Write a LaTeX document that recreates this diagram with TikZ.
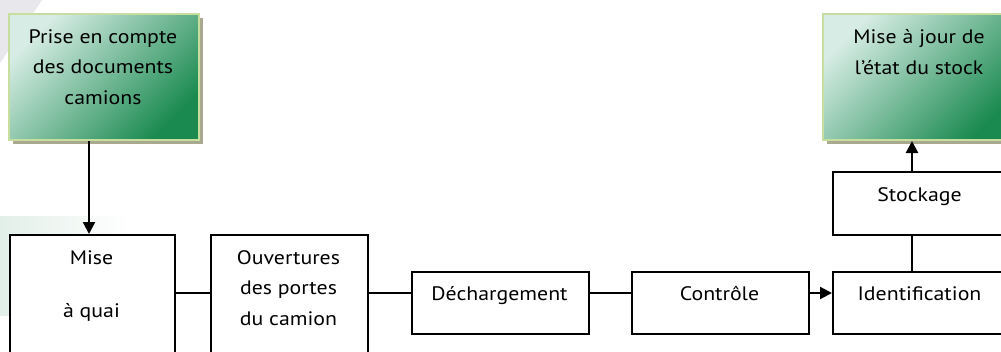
\documentclass[tikz,border=0pt]{standalone}
\usepackage{fontspec}
\setmainfont{PT Sans}[FakeStretch=1.12]
\usetikzlibrary{arrows.meta,shadows}
\definecolor{glight}{HTML}{D6ECE4}
\definecolor{gdark}{HTML}{1A8A50}
\definecolor{gborder}{HTML}{C8DE9E}
\definecolor{gshadow}{HTML}{A8A98E}
\definecolor{bggray}{HTML}{E8E8EC}
\definecolor{bggreen}{HTML}{E2EFE8}
\tikzset{
  gbox/.style={draw=gborder, line width=2pt, top color=glight, bottom color=gdark, shading angle=45,
    inner sep=0pt, minimum height=126pt, anchor=north west,
    general shadow={fill=gshadow, shadow xshift=4pt, shadow yshift=-4pt}},
  wbox/.style={draw=black, line width=1.8pt, fill=white, inner sep=0pt, anchor=north west},
  lbl/.style={font=\fontsize{19.5}{30.5}\selectfont, align=center, anchor=base, inner sep=0pt},
  link/.style={line width=1.7pt},
  arr/.style={line width=2.2pt, -{Triangle[length=12pt,width=12pt]}},
}
\begin{document}
\begin{tikzpicture}[x=1pt,y=-1pt]
\useasboundingbox (0,0) rectangle (1001,351);
\fill[white] (0,0) rectangle (1001,351);
\clip (0,0) rectangle (1001,351);
% background decorations
\fill[bggray] (0,0) -- (42,0) -- (0,63) -- cycle;
\shade[left color=bggreen, right color=white] (0,216) rectangle (130,315);
% green boxes
\node[gbox, minimum width=190pt] (g1) at (8,13) {};
\node[gbox, minimum width=194pt] (g2) at (822,13) {};
% white boxes
\node[wbox, minimum width=165pt, minimum height=118pt] (maq) at (9,234) {};
\node[wbox, minimum width=157pt, minimum height=118pt] (ouv) at (210,234) {};
\node[wbox, minimum width=177pt, minimum height=62pt] (dech) at (411,271) {};
\node[wbox, minimum width=177pt, minimum height=62pt] (ctrl) at (631,271) {};
\node[wbox, minimum width=178pt, minimum height=62pt] (ident) at (832,271) {};
\node[wbox, minimum width=178pt, minimum height=63pt] (stock) at (832,171) {};
% texts (anchor = baseline of last line)
\node[lbl] (t1) at (103,104) {Prise en compte\\des documents\\camions};
\node[lbl] (t2) at (919,74) {Mise à jour de\\l’état du stock};
\node[lbl] (t3) at (91.5,317) {Mise\\[22.5pt]à quai};
\node[lbl] (t4) at (288.5,325) {Ouvertures\\des portes\\du camion};
\node[lbl] (t5) at (499.5,300) {Déchargement};
\node[lbl] (t6) at (719.5,300) {Contrôle};
\node[lbl] (t7) at (919.5,300) {Identification};
\node[lbl] (t8) at (919.5,201) {Stockage};
% connectors
\coordinate (cy) at (0,293);
\coordinate (vx) at (912,0);
\coordinate (ax) at (89,0);
\draw[arr] (g1.south -| ax) -- (maq.north -| ax);
\draw[link] (maq.east |- cy) -- (ouv.west |- cy);
\draw[link] (ouv.east |- cy) -- (dech.west |- cy);
\draw[link] (dech.east |- cy) -- (ctrl.west |- cy);
\draw[arr] (ctrl.east |- cy) -- (ident.west |- cy);
\draw[link] (stock.south -| vx) -- (ident.north -| vx);
\draw[arr] (stock.north -| vx) -- (g2.south -| vx);
\end{tikzpicture}
\end{document}
